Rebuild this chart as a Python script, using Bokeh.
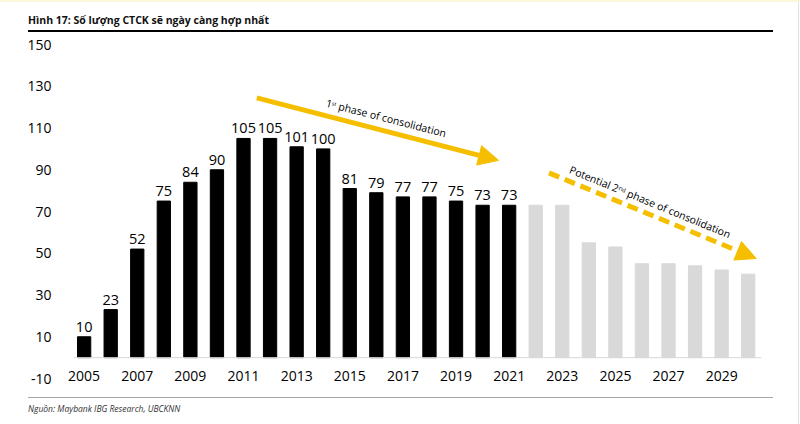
from bokeh.plotting import figure
from bokeh.models import (ColumnDataSource, FixedTicker, Span, Arrow, NormalHead,
                          Label, Div)
from bokeh.layouts import column
from bokeh.embed import file_html
from bokeh.resources import INLINE
from bokeh.core.properties import value

# ---- data ----
actual_years = [2005, 2006, 2007, 2008, 2009, 2010, 2011, 2012, 2013,
                2014, 2015, 2016, 2017, 2018, 2019, 2020, 2021]
actual_values = [10, 23, 52, 75, 84, 90, 105, 105, 101, 100, 81, 79, 77, 77, 75, 73, 73]
forecast_years = [2022, 2023, 2024, 2025, 2026, 2027, 2028, 2029, 2030]
forecast_values = [73, 73, 55, 53, 45, 45, 44, 42, 40]
x_ticks = [2005, 2007, 2009, 2011, 2013, 2015, 2017, 2019, 2021, 2023, 2025, 2027, 2029]
y_ticks = [-10, 10, 30, 50, 70, 90, 110, 130, 150]

title_text = "Hình 17: Số lượng CTCK sẽ ngày càng hợp nhất"
source_text = "Nguồn: Maybank IBG Research, UBCKNN"
phase1_text = "1ˢᵗ phase of consolidation"
phase2_text = "Potential 2ⁿᵈ phase of consolidation"

# annotation anchors (data space: year, count)
arrow1 = dict(x_start=2011.5, y_start=124.4, x_end=2020.6, y_end=94.5)
arrow2 = dict(x_start=2022.5, y_start=88.5, x_end=2030.3, y_end=47.5)
label1 = dict(x=2016.37, y=114.8)
label2 = dict(x=2026.31, y=74.6)

YELLOW = "#F5BF00"
FONT = "Open Sans"

src_a = ColumnDataSource(dict(x=actual_years, top=actual_values,
                              lbl=[str(v) for v in actual_values]))
src_f = ColumnDataSource(dict(x=forecast_years, top=forecast_values))

p = figure(width=800, height=356, output_backend="svg", toolbar_location=None,
           x_range=(2004.6, 2030.5), y_range=(-10, 150),
           min_border_left=73, min_border_right=39, min_border_top=10,
           min_border_bottom=12)
p.outline_line_color = None
p.background_fill_color = "white"
p.border_fill_color = None
p.xgrid.visible = False
p.ygrid.visible = False

p.vbar(x="x", top="top", width=0.5, bottom=0, color="#000000", source=src_a)
p.vbar(x="x", top="top", width=0.5, bottom=0, color="#D9D9D9", source=src_f)
p.text(x="x", y="top", text="lbl", source=src_a, text_align="center",
       text_baseline="bottom", y_offset=-5, text_font=value(FONT),
       text_font_size="14.5px", text_color="#000000")

p.add_layout(Span(location=0, dimension="width", line_color="#D9D9D9", line_width=1))

# axes
p.yaxis.ticker = FixedTicker(ticks=y_ticks)
p.yaxis.major_label_overrides = {-10: "-10"}
p.yaxis.axis_line_color = None
p.yaxis.major_tick_line_color = None
p.yaxis.minor_tick_line_color = None
p.yaxis.major_label_standoff = 16
p.yaxis.major_label_text_font = FONT
p.yaxis.major_label_text_font_size = "14px"
p.yaxis.major_label_text_color = "#000000"

p.xaxis.ticker = FixedTicker(ticks=x_ticks)
p.xaxis.axis_line_color = None
p.xaxis.major_tick_line_color = None
p.xaxis.minor_tick_line_color = None
p.xaxis.major_tick_out = 0
p.xaxis.major_tick_in = 0
p.xaxis.major_label_standoff = -8
p.xaxis.major_label_text_font = FONT
p.xaxis.major_label_text_font_size = "14px"
p.xaxis.major_label_text_color = "#000000"

# arrows
p.add_layout(Arrow(end=NormalHead(size=20, fill_color=YELLOW, line_color=YELLOW),
                   line_color=YELLOW, line_width=5, **arrow1))
p.add_layout(Arrow(end=NormalHead(size=20, fill_color=YELLOW, line_color=YELLOW),
                   line_color=YELLOW, line_width=5, line_dash="11 6", **arrow2))
p.add_layout(Label(text=phase1_text, angle=-0.252, text_align="center",
                   text_baseline="middle", text_font=FONT, text_font_size="10.5px",
                   text_color="#000000", **label1))
p.add_layout(Label(text=phase2_text, angle=-0.389, text_align="center",
                   text_baseline="middle", text_font=FONT, text_font_size="10.5px",
                   text_color="#000000", **label2))

title_div = Div(width=800, height=34, margin=0, text=(
    '<div style="margin-left:28px;width:745px;height:32px;box-sizing:border-box;'
    'padding-top:13px;border-bottom:2px solid #000;font-family:\'Open Sans\';'
    'font-weight:bold;font-size:10.5px;line-height:14px;color:#111;'
    'white-space:nowrap;">' + title_text + '</div>'))

source_div = Div(width=800, height=34, margin=0, text=(
    '<div style="margin-left:28px;margin-top:7px;width:745px;'
    'border-top:1px solid #A6A6A6;padding-top:5px;font-family:\'Open Sans\';'
    'font-style:italic;font-size:8.5px;line-height:12px;color:#333;'
    'white-space:nowrap;">' + source_text + '</div>'))

layout = column(title_div, p, source_div, spacing=0, margin=0, styles={
    "background": ("linear-gradient(to bottom, #FBF7DC 0px, #FBF7DC 2px, transparent 2px), "
                   "linear-gradient(to left, transparent 0px, transparent 1px, #E2E2E2 1px, "
                   "#E2E2E2 2px, transparent 2px), white")})
open("out.html", "w").write(file_html(layout, INLINE))
